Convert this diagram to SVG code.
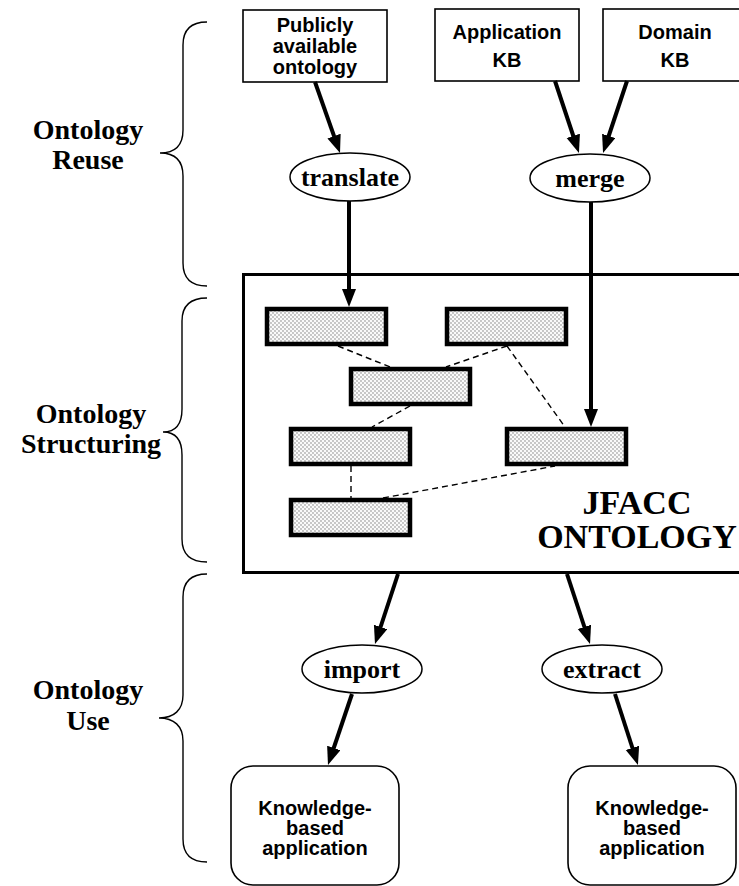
<svg xmlns="http://www.w3.org/2000/svg" width="739" height="886" viewBox="0 0 739 886">
<style>
.box{fill:#fff;stroke:#000;stroke-width:1.6}
.ell{fill:#fff;stroke:#000;stroke-width:1.5}
.shade{fill:url(#dots);stroke:#000;stroke-width:4.5}
.main{fill:#fff;stroke:#000;stroke-width:3}
.arr{stroke:#000;stroke-width:4;fill:none;marker-end:url(#ah)}
.dash{stroke:#000;stroke-width:1.4;stroke-dasharray:6 4;fill:none}
.brace{fill:none;stroke:#000;stroke-width:1.4}
.sans{font-family:"Liberation Sans",Arial,sans-serif;font-weight:bold;font-size:20px;text-anchor:middle}
.serif{font-family:"Liberation Serif","Times New Roman",serif;font-weight:bold;text-anchor:middle}
.lab{font-size:28px}
.op{font-size:26px}
.big{font-size:34px}
</style>
<defs>
<pattern id="dots" width="4" height="4" patternUnits="userSpaceOnUse">
<rect width="4" height="4" fill="#fafafa"/>
<circle cx="1" cy="1" r="0.65" fill="#6a6a6a"/>
<circle cx="3" cy="3" r="0.65" fill="#6a6a6a"/>
</pattern>
<marker id="ah" markerUnits="userSpaceOnUse" markerWidth="20" markerHeight="16" refX="8" refY="7" orient="auto">
<path d="M0,0 L18,7 L0,14 z" fill="#000"/>
</marker>
</defs>

<g id="braces">
<path class="brace" d="M207,22 C190,22 183,30 183,45 L183,130 C183,145 175,153 160,153 C175,153 183,161 183,176 L183,263 C183,278 190,286 207,286"/>
<path class="brace" d="M207,298 C190,298 182,306 182,321 L182,409 C182,424 176,432 163,432 C176,432 182,440 182,455 L182,539 C182,554 190,562 207,562"/>
<path class="brace" d="M207,574 C190,574 183,582 183,597 L183,695 C183,710 174,718 159,718 C174,718 183,726 183,741 L183,839 C183,854 190,862 207,862"/>
</g>

<g id="label-reuse">
<text class="serif lab" x="88" y="139">Ontology</text>
<text class="serif lab" x="88" y="169">Reuse</text>
</g>
<g id="label-structuring">
<text class="serif lab" x="91" y="423">Ontology</text>
<text class="serif lab" x="91" y="453">Structuring</text>
</g>
<g id="label-use">
<text class="serif lab" x="88" y="699">Ontology</text>
<text class="serif lab" x="88" y="730">Use</text>
</g>

<g id="jfacc-ontology">
<rect class="main" x="243.5" y="274.5" width="510" height="298"/>
<text class="serif big" x="637" y="514">JFACC</text>
<text class="serif big" x="637" y="548">ONTOLOGY</text>
</g>

<g id="public-ontology">
<rect class="box" x="243" y="10" width="144" height="72"/>
<text class="sans" x="315" y="32">Publicly</text>
<text class="sans" x="315" y="53">available</text>
<text class="sans" x="315" y="74">ontology</text>
</g>
<g id="application-kb">
<rect class="box" x="435" y="9" width="144" height="72"/>
<text class="sans" x="507" y="39">Application</text>
<text class="sans" x="507" y="67">KB</text>
</g>
<g id="domain-kb">
<rect class="box" x="603" y="9" width="144" height="72"/>
<text class="sans" x="675" y="39">Domain</text>
<text class="sans" x="675" y="67">KB</text>
</g>

<g id="translate">
<ellipse class="ell" cx="350" cy="177" rx="60" ry="24"/>
<text class="serif op" x="350" y="186">translate</text>
</g>
<g id="merge">
<ellipse class="ell" cx="590" cy="178" rx="60" ry="24"/>
<text class="serif op" x="590" y="187">merge</text>
</g>

<g id="c1"><rect class="shade" x="267" y="309" width="119" height="35"/></g>
<g id="c2"><rect class="shade" x="447" y="309" width="119" height="35"/></g>
<g id="c3"><rect class="shade" x="351" y="369" width="119" height="35"/></g>
<g id="c4"><rect class="shade" x="291" y="429" width="119" height="35"/></g>
<g id="c5"><rect class="shade" x="507" y="429" width="119" height="35"/></g>
<g id="c6"><rect class="shade" x="291" y="500" width="119" height="35"/></g>

<g id="import">
<ellipse class="ell" cx="362" cy="669" rx="60" ry="24"/>
<text class="serif op" x="362" y="678">import</text>
</g>
<g id="extract">
<ellipse class="ell" cx="602" cy="669" rx="60" ry="24"/>
<text class="serif op" x="602" y="678">extract</text>
</g>

<g id="kba-left">
<rect class="box" x="231" y="766" width="168" height="119" rx="22"/>
<text class="sans" x="315" y="815">Knowledge-</text>
<text class="sans" x="315" y="835">based</text>
<text class="sans" x="315" y="855">application</text>
</g>
<g id="kba-right">
<rect class="box" x="568" y="766" width="168" height="119" rx="22"/>
<text class="sans" x="652" y="815">Knowledge-</text>
<text class="sans" x="652" y="835">based</text>
<text class="sans" x="652" y="855">application</text>
</g>

<g id="connectors">
<line class="arr" x1="315" y1="82" x2="336.7" y2="143.6"/>
<line class="arr" x1="555" y1="81" x2="575.8" y2="143.5"/>
<line class="arr" x1="627" y1="81" x2="606.2" y2="143.5"/>
<line class="arr" x1="349" y1="201" x2="349" y2="297"/>
<line class="arr" x1="591" y1="202" x2="591" y2="417"/>
<line class="arr" x1="398" y1="574" x2="378.1" y2="634.5"/>
<line class="arr" x1="567" y1="574" x2="586.9" y2="634.5"/>
<line class="arr" x1="352" y1="694" x2="331.2" y2="755.5"/>
<line class="arr" x1="615" y1="694" x2="634.9" y2="755.5"/>
<line class="dash" x1="338" y1="346" x2="390" y2="367"/>
<line class="dash" x1="507" y1="346" x2="446" y2="367"/>
<line class="dash" x1="507" y1="346" x2="565" y2="427"/>
<line class="dash" x1="410" y1="406" x2="372" y2="427"/>
<line class="dash" x1="351" y1="466" x2="351" y2="498"/>
<line class="dash" x1="383" y1="498" x2="555" y2="466"/>
</g>
</svg>
